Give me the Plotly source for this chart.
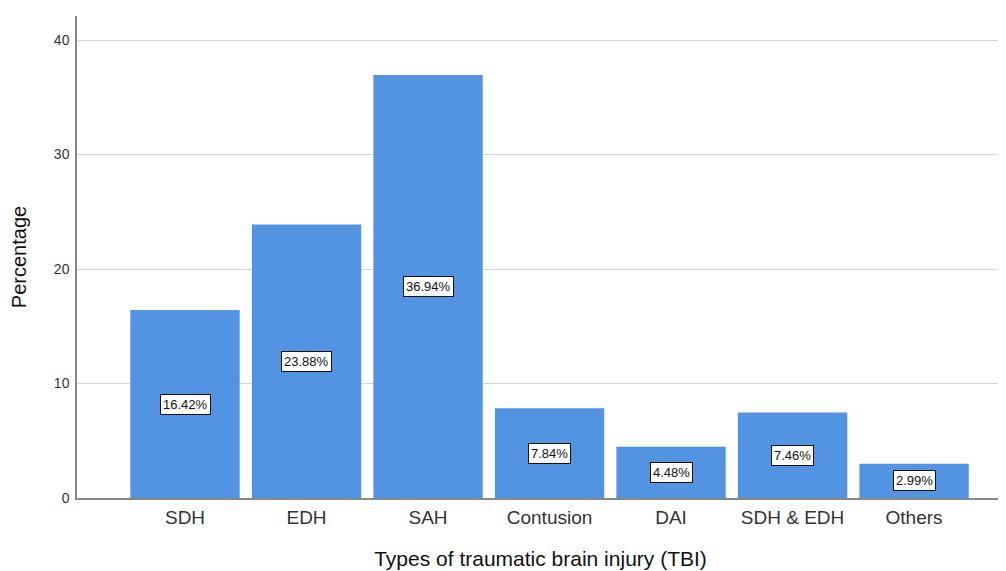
import plotly.graph_objects as go

categories = ["SDH", "EDH", "SAH", "Contusion", "DAI", "SDH & EDH", "Others"]
percentages = [16.42, 23.88, 36.94, 7.84, 4.48, 7.46, 2.99]
y_ticks = [0, 10, 20, 30, 40]

bar_color = "#5294E2"
font_family = "Arial, Liberation Sans, sans-serif"

fig = go.Figure()
fig.add_trace(go.Bar(
    x=categories, y=percentages, width=0.9,
    marker=dict(color=bar_color, line=dict(width=0)),
    hoverinfo="x+y",
))

for c, v in zip(categories, percentages):
    fig.add_annotation(
        x=c, y=v / 2, text=f"{v:.2f}%", showarrow=False,
        font=dict(family=font_family, size=13, color="#111"),
        bgcolor="white", bordercolor="#111", borderwidth=1, borderpad=2,
    )

fig.update_layout(
    width=998, height=563,
    margin=dict(l=69, r=2, t=8, b=73),
    plot_bgcolor="white", paper_bgcolor="white",
    showlegend=False,
    font=dict(family=font_family, color="#222"),
    xaxis=dict(
        range=[-0.889, 6.74], automargin=False,
        showline=True, linecolor="#888", linewidth=1.5,
        showgrid=False, ticks="", ticklabelstandoff=1,
        tickfont=dict(size=19, color="#333"),
        title=dict(text="Types of traumatic brain injury (TBI)", font=dict(size=21, color="#111"), standoff=25),
    ),
    yaxis=dict(
        range=[0, 42.1], tickvals=y_ticks, automargin=False,
        showline=True, linecolor="#888", linewidth=1.5,
        showgrid=True, gridcolor="#d4d4d4", gridwidth=1,
        zeroline=False, ticks="", ticklabelstandoff=3,
        tickfont=dict(size=14, color="#333"),
        title=dict(text="Percentage", font=dict(size=20, color="#111"), standoff=22),
    ),
)

fig.write_html("out.html")
